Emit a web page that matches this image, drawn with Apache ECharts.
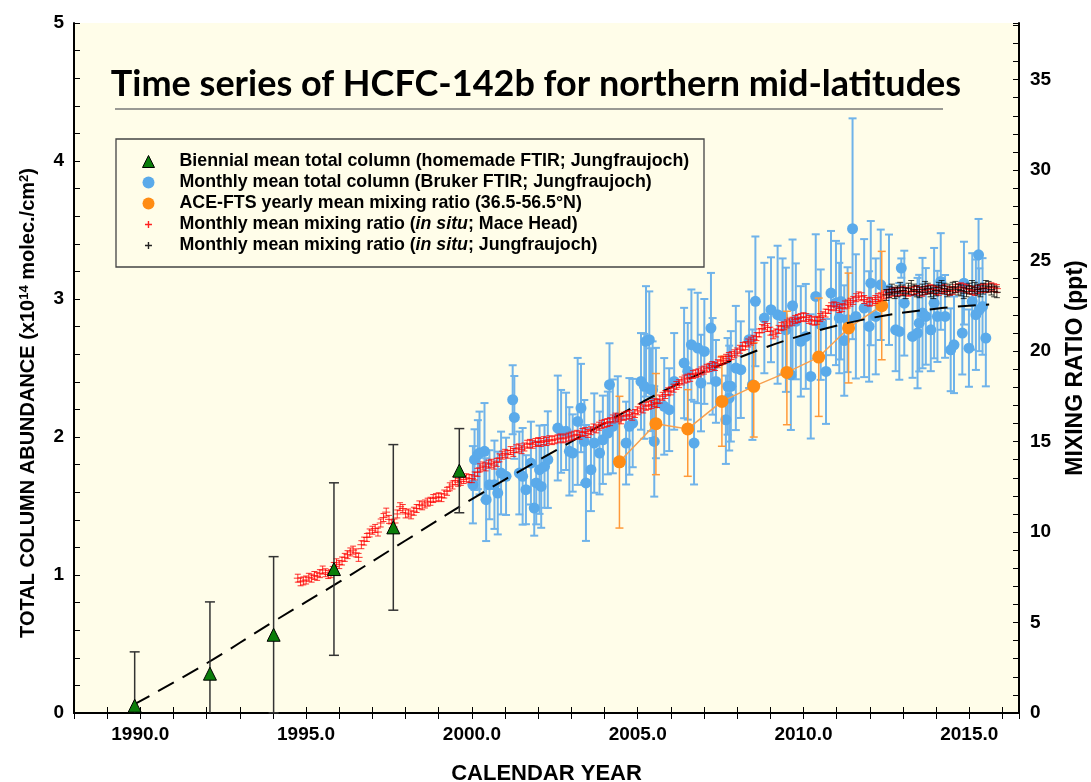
<!DOCTYPE html>
<html>
<head>
<meta charset="utf-8">
<script src="https://cdn.jsdelivr.net/npm/echarts@6/dist/echarts.min.js"></script>
<style>
  html, body { margin: 0; padding: 0; background: #fff; }
  #chart { width: 1091px; height: 782px; }
</style>
</head>
<body>
<div id="chart"></div>
<script>
// biennial means, homemade FTIR (column, 1e14 molec/cm2)
const greenYears = [1989.83, 1992.1, 1994.02, 1995.84, 1997.63, 1999.62]
const greenColumns = [0.053, 0.285, 0.567, 1.043, 1.345, 1.756]
const greenErrors = [0.39, 0.52, 0.566, 0.625, 0.6, 0.305]

// monthly means, Bruker FTIR (column)
const blueYears = [
  2000.03, 2000.08, 2000.18, 2000.23, 2000.38, 2000.43, 2000.53, 2000.68, 2000.78, 2000.88,
  2001.03, 2001.23, 2001.28, 2001.43, 2001.53, 2001.63, 2001.78, 2001.88, 2001.94, 2002.04,
  2002.09, 2002.19, 2002.29, 2002.59, 2002.69, 2002.84, 2002.94, 2003.04, 2003.19, 2003.29,
  2003.39, 2003.44, 2003.59, 2003.69, 2003.85, 2003.95, 2004.1, 2004.15, 2004.25, 2004.4,
  2004.65, 2004.75, 2004.85, 2005.1, 2005.2, 2005.25, 2005.35, 2005.4, 2005.45, 2005.5,
  2005.55, 2005.8, 2005.95, 2006.1, 2006.4, 2006.51, 2006.62, 2006.7, 2006.81, 2006.91,
  2007.01, 2007.21, 2007.26, 2007.36, 2007.66, 2007.71, 2007.76, 2007.81, 2007.96, 2008.11,
  2008.36, 2008.46, 2008.55, 2008.82, 2009.02, 2009.22, 2009.37, 2009.47, 2009.62, 2009.67,
  2009.77, 2009.92, 2010.07, 2010.22, 2010.37, 2010.52, 2010.68, 2010.83, 2010.98, 2011.08,
  2011.13, 2011.23, 2011.33, 2011.48, 2011.58, 2011.83, 2011.98, 2012.03, 2012.18, 2012.33,
  2012.58, 2012.78, 2012.89, 2012.95, 2013.04, 2013.29, 2013.44, 2013.49, 2013.59, 2013.69,
  2013.84, 2013.94, 2014.04, 2014.14, 2014.27, 2014.44, 2014.54, 2014.79, 2014.84, 2014.99,
  2015.09, 2015.2, 2015.28, 2015.3, 2015.4, 2015.5
]
const blueColumns = [
  1.654, 1.836, 1.872, 1.884, 1.896, 1.546, 1.654, 1.654, 1.594, 1.739,
  1.715, 2.27, 2.142, 1.739, 1.715, 1.618, 1.811, 1.485, 1.667, 1.763,
  1.642, 1.787, 1.836, 2.065, 2.041, 2.041, 1.896, 1.884, 2.113, 2.21,
  1.968, 1.667, 1.763, 1.956, 1.884, 1.98, 2.029, 2.379, 2.077, 2.14,
  1.956, 2.077, 2.101, 2.403, 2.367, 2.693, 2.705, 2.343, 2.343, 1.968,
  2.246, 2.222, 2.198, 2.403, 2.536, 2.476, 2.669, 1.956, 2.645, 2.391,
  2.62, 2.789, 2.512, 2.403, 2.125, 2.367, 2.282, 2.367, 2.5, 2.488,
  2.705, 2.379, 2.983, 2.862, 2.922, 2.886, 2.874, 2.777, 2.451, 2.951,
  2.838, 2.693, 2.729, 2.439, 3.019, 2.814, 2.475, 3.043, 2.971, 2.862,
  2.982, 2.699, 2.85, 3.509, 2.874, 2.934, 2.801, 3.115, 2.874, 3.103,
  3.067, 2.777, 2.765, 3.224, 2.97, 2.729, 2.753, 2.825, 2.898, 2.874,
  2.777, 2.97, 2.874, 3.127, 2.874, 2.632, 2.668, 2.753, 3.115, 2.644,
  2.982, 2.886, 3.32, 2.922, 2.946, 2.717
]
const blueErrors = [
  0.28, 0.22, 0.25, 0.3, 0.35, 0.3, 0.25, 0.32, 0.3, 0.3,
  0.28, 0.25, 0.3, 0.3, 0.35, 0.25, 0.3, 0.2, 0.3, 0.32,
  0.3, 0.3, 0.35, 0.38, 0.3, 0.28, 0.32, 0.28, 0.46, 0.32,
  0.3, 0.42, 0.3, 0.36, 0.3, 0.32, 0.3, 0.3, 0.34, 0.3,
  0.3, 0.35, 0.32, 0.35, 0.38, 0.4, 0.35, 0.3, 0.35, 0.4,
  0.4, 0.35, 0.3, 0.35, 0.4, 0.35, 0.4, 0.3, 0.4, 0.35,
  0.38, 0.4, 0.35, 0.3, 0.32, 0.35, 0.38, 0.4, 0.45, 0.35,
  0.35, 0.4, 0.47, 0.4, 0.38, 0.5, 0.42, 0.45, 0.4, 0.48,
  0.42, 0.4, 0.38, 0.45, 0.45, 0.4, 0.38, 0.45, 0.45, 0.4,
  0.42, 0.4, 0.38, 0.8, 0.45, 0.5, 0.4, 0.45, 0.42, 0.4,
  0.4, 0.3, 0.35, 0.07, 0.38, 0.3, 0.4, 0.35, 0.4, 0.35,
  0.3, 0.4, 0.33, 0.35, 0.3, 0.3, 0.35, 0.3, 0.3, 0.28,
  0.35, 0.4, 0.26, 0.3, 0.35, 0.35
]

// ACE-FTS yearly means (ppt)
const orangeYears = [2004.45, 2005.55, 2006.51, 2007.54, 2008.5, 2009.5, 2010.46, 2011.36, 2012.36]
const orangePpt = [13.88, 15.99, 15.7, 17.22, 18.05, 18.82, 19.67, 21.28, 22.51]
const orangeLow = [10.22, 13.17, 13.08, 14.74, 15.25, 15.93, 16.39, 18.24, 19.52]
const orangeHigh = [17.5, 18.76, 17.87, 19.71, 20.45, 22.2, 22.93, 24.31, 25.51]

// in situ Mace Head, monthly from Oct 1994 (ppt)
const redStart = 1994.75
const redPpt = [
  7.45, 7.25, 7.3,
  7.35, 7.5, 7.45, 7.6, 7.55, 7.7, 7.9, 7.75, 7.65, 7.7, 8.1, 8.3,
  8.2, 8.4, 8.6, 8.75, 8.9, 9.0, 8.85, 8.6, 9.3, 9.5, 9.7, 9.95,
  10.1, 10.2, 10.0, 10.5, 10.8, 11.1, 10.7, 10.45, 10.5, 11.0, 11.4, 11.3,
  11.0, 11.05, 10.95, 11.15, 11.3, 11.5, 11.45, 11.55, 11.65, 11.7, 11.85, 11.9,
  11.95, 11.9, 12.1, 12.25, 12.5, 12.6, 12.85, 12.75, 12.8, 12.9, 13.0, 12.95,
  12.95, 13.1, 13.3, 13.55, 13.65, 13.6, 13.75, 13.8, 13.7, 13.85, 14.1, 14.25,
  14.35, 14.3, 14.5, 14.4, 14.6, 14.65, 14.55, 14.7, 14.85, 14.9, 14.85, 14.95,
  15.0, 14.95, 15.05, 15.0, 15.1, 15.05, 15.1, 15.15, 15.2, 15.15, 15.2, 15.25,
  15.3, 15.35, 15.4, 15.35, 15.5, 15.55, 15.45, 15.6, 15.75, 15.7, 15.85, 15.95,
  16.0, 16.05, 16.1, 16.25, 16.35, 16.3, 16.2, 16.4, 16.45, 16.5, 16.4, 16.55,
  16.7, 16.85, 16.8, 16.95, 17.0, 17.05, 17.15, 17.1, 17.35, 17.5, 17.6, 17.75,
  17.8, 17.95, 18.1, 18.2, 18.35, 18.45, 18.5, 18.55, 18.7, 18.75, 18.8, 18.9,
  18.95, 19.05, 19.1, 19.2, 19.15, 19.3, 19.45, 19.5, 19.6, 19.7, 19.75, 19.85,
  19.95, 20.1, 20.25, 20.3, 20.45, 20.55, 20.65, 20.8, 21.0, 21.25, 21.4, 21.3,
  21.1, 20.9, 21.0, 21.2, 21.35, 21.4, 21.5, 21.6, 21.65, 21.75, 21.8, 21.85,
  21.9, 21.85, 21.75, 21.7, 21.65, 21.7, 21.85, 21.95, 22.1, 22.3, 22.45, 22.5,
  22.45, 22.35, 22.4, 22.55, 22.6, 22.7, 22.8, 22.95, 23.05, 23.0, 22.85, 22.75,
  22.7, 22.75, 22.85, 22.95, 23.0, 23.1, 23.15, 23.2, 23.25, 23.3, 23.25, 23.3,
  23.35, 23.3, 23.25, 23.3, 23.35, 23.4, 23.3, 23.25, 23.35, 23.4, 23.45, 23.4,
  23.35, 23.3, 23.4, 23.45, 23.35, 23.3, 23.35, 23.45, 23.5, 23.55, 23.5, 23.45,
  23.4, 23.35, 23.3, 23.4, 23.45, 23.5, 23.45, 23.5, 23.55, 23.5, 23.45
]
const redError = 0.22

// in situ Jungfraujoch, monthly from Jul 2012 (ppt)
const blackStart = 2012.5
const blackPpt = [
  23.1, 23.25, 23.4, 23.2, 23.3, 23.5,
  23.35, 23.2, 23.45, 23.6, 23.4, 23.3, 23.25, 23.4, 23.55, 23.45, 23.3, 23.2,
  23.35, 23.5, 23.6, 23.45, 23.3, 23.4, 23.5, 23.55, 23.4, 23.35, 23.2, 23.3,
  23.45, 23.6, 23.5, 23.4, 23.3, 23.45, 23.6, 23.55, 23.4, 23.3, 23.25
]
const blackError = 0.3

// dashed fit through the column data
const fitYears = [1989.8, 1992, 1994, 1996, 1998, 2000, 2002, 2004, 2006, 2008, 2010, 2012, 2014, 2015.6]
const fitColumns = [0.06, 0.36, 0.66, 0.95, 1.25, 1.55, 1.83, 2.1, 2.36, 2.57, 2.74, 2.86, 2.93, 2.96]

const xTicks = [1990, 1995, 2000, 2005, 2010, 2015]
const pptMax = 38.13

const NAME_GREEN = 'Biennial mean total column (homemade FTIR; Jungfraujoch)'
const NAME_BLUE = 'Monthly mean total column (Bruker FTIR; Jungfraujoch)'
const NAME_ORANGE = 'ACE-FTS yearly mean mixing ratio (36.5-56.5°N)'
const NAME_RED = 'Monthly mean mixing ratio (in situ; Mace Head)'
const NAME_BLACK = 'Monthly mean mixing ratio (in situ; Jungfraujoch)'

const FONT = "'Liberation Sans', Arial, sans-serif"
const PLUS_ICON = 'path://M0,0h0.05v0.05h-0.05zM12,12h0.05v0.05h-0.05zM5.3,2.5h1.4v2.8h2.8v1.4h-2.8v2.8h-1.4v-2.8h-2.8v-1.4h2.8z'

// error bar drawing: vertical bar, caps, optional horizontal cross
function errorBars(color, width, capHalf, crossHalf) {
  return function (params, api) {
    const x = api.value(0)
    const lo = api.value(2)
    const mid = api.coord([x, api.value(1)])
    const top = api.coord([x, api.value(3)])
    const bottom = api.coord([x, Math.max(lo, 0)])
    const style = { stroke: color, lineWidth: width }
    const children = [
      { type: 'line', shape: { x1: mid[0], y1: top[1], x2: mid[0], y2: bottom[1] }, style },
      { type: 'line', shape: { x1: mid[0] - capHalf, y1: top[1], x2: mid[0] + capHalf, y2: top[1] }, style }
    ]
    if (lo >= 0) {
      children.push({ type: 'line', shape: { x1: mid[0] - capHalf, y1: bottom[1], x2: mid[0] + capHalf, y2: bottom[1] }, style })
    }
    if (crossHalf) {
      children.push({ type: 'line', shape: { x1: mid[0] - crossHalf, y1: mid[1], x2: mid[0] + crossHalf, y2: mid[1] }, style })
    }
    return { type: 'group', children }
  }
}

const greenData = greenYears.map((x, i) => [x, greenColumns[i], greenColumns[i] - greenErrors[i], greenColumns[i] + greenErrors[i]])
const blueData = blueYears.map((x, i) => [x, blueColumns[i], blueColumns[i] - blueErrors[i], blueColumns[i] + blueErrors[i]])
const orangeData = orangeYears.map((x, i) => [x, orangePpt[i], orangeLow[i], orangeHigh[i]])
const redData = redPpt.map((v, i) => [redStart + i / 12, v, v - redError, v + redError])
const blackData = blackPpt.map((v, i) => [blackStart + i / 12, v, v - blackError, v + blackError])
const fitData = fitYears.map((x, i) => [x, fitColumns[i]])

const tickStyle = { show: true, inside: true, length: 6, lineStyle: { color: '#000', width: 1 } }
const lineStyle = { show: true, lineStyle: { color: '#000', width: 2 } }
const labelStyle = { fontFamily: FONT, fontWeight: 'bold', fontSize: 19, color: '#000' }

const option = {
  animation: false,
  backgroundColor: '#fff',
  grid: {
    left: 74, right: 72, top: 23, bottom: 69,
    outerBoundsMode: 'none',
    containLabel: false,
    show: true, backgroundColor: '#fffde9', borderWidth: 0
  },
  graphic: [
    {
      type: 'text', x: 536, y: 84, z: 10,
      style: {
        text: 'Time series of HCFC-142b for northern mid-latitudes',
        font: "bold 36px Lato, 'Open Sans', sans-serif",
        fill: '#000', align: 'center', verticalAlign: 'middle'
      }
    },
    {
      type: 'line', z: 10,
      shape: { x1: 115, y1: 109, x2: 943, y2: 109 },
      style: { stroke: '#777', lineWidth: 1.5 }
    },
    {
      type: 'rect', z: 10,
      shape: { x: 116, y: 139, width: 588, height: 128 },
      style: { fill: 'none', stroke: '#444', lineWidth: 1.3 }
    }
  ],
  legend: {
    orient: 'vertical',
    left: 142,
    top: 151,
    padding: 0,
    itemWidth: 12,
    itemHeight: 12,
    itemGap: 0,
    selectedMode: false,
    data: [
      { name: NAME_GREEN, icon: 'triangle', itemStyle: { color: '#0a7d0a', borderColor: '#000', borderWidth: 1 } },
      { name: NAME_BLUE, icon: 'circle', itemStyle: { color: '#5aaaea', borderWidth: 0 } },
      { name: NAME_ORANGE, icon: 'circle', itemStyle: { color: '#ff8c14', borderWidth: 0 } },
      { name: NAME_RED, icon: PLUS_ICON, itemStyle: { color: '#ff2020', borderWidth: 0 } },
      { name: NAME_BLACK, icon: PLUS_ICON, itemStyle: { color: '#222', borderWidth: 0 } }
    ],
    formatter: name => name.replace('in situ', '{i|in situ}'),
    textStyle: {
      fontFamily: FONT, fontWeight: 'bold', fontSize: 17.8, color: '#000',
      lineHeight: 21, padding: [0, 0, 0, 20],
      rich: {
        i: { fontFamily: FONT, fontWeight: 'bold', fontStyle: 'italic', fontSize: 17.8, color: '#000', lineHeight: 21 }
      }
    }
  },
  xAxis: [
    {
      type: 'value', min: 1988, max: 2016.5, interval: 1,
      name: 'CALENDAR YEAR', nameLocation: 'middle', nameGap: 50,
      nameTextStyle: { fontFamily: FONT, fontWeight: 'bold', fontSize: 22, color: '#000' },
      axisLine: lineStyle, axisTick: tickStyle, splitLine: { show: false },
      axisLabel: Object.assign({}, labelStyle, {
        margin: 12,
        formatter: v => (xTicks.indexOf(v) >= 0 ? v.toFixed(1) : '')
      })
    },
    {
      type: 'value', position: 'top', min: 1988, max: 2016.5, interval: 1,
      axisLine: lineStyle, axisTick: tickStyle, splitLine: { show: false },
      axisLabel: { show: false }
    }
  ],
  yAxis: [
    {
      type: 'value', min: 0, max: 5, interval: 0.2,
      name: 'TOTAL COLUMN ABUNDANCE (x10{sup|14} molec./cm{sup|2})',
      nameLocation: 'middle', nameGap: 36, nameRotate: 90,
      nameTextStyle: {
        fontFamily: FONT, fontWeight: 'bold', fontSize: 20, color: '#000',
        padding: [0, 70, 0, 0],
        rich: { sup: { fontFamily: FONT, fontWeight: 'bold', fontSize: 13, color: '#000', verticalAlign: 'top' } }
      },
      axisLine: lineStyle, axisTick: tickStyle, splitLine: { show: false },
      axisLabel: Object.assign({}, labelStyle, {
        margin: 10,
        formatter: v => (Math.abs(v - Math.round(v)) < 1e-6 ? String(Math.round(v)) : '')
      })
    },
    {
      type: 'value', position: 'right', min: 0, max: pptMax, interval: 1,
      name: 'MIXING RATIO (ppt)', nameLocation: 'middle', nameGap: 45, nameRotate: 90,
      nameTextStyle: { fontFamily: FONT, fontWeight: 'bold', fontSize: 23, color: '#000' },
      axisLine: lineStyle, axisTick: tickStyle, splitLine: { show: false },
      axisLabel: Object.assign({}, labelStyle, {
        margin: 11,
        formatter: v => (v % 5 === 0 ? String(v) : '')
      })
    }
  ],
  series: [
    {
      type: 'custom', name: 'blue-err', xAxisIndex: 0, yAxisIndex: 0, z: 2,
      renderItem: errorBars('#6fb3ea', 2, 4, 0), data: blueData, silent: true
    },
    {
      type: 'scatter', name: NAME_BLUE, xAxisIndex: 0, yAxisIndex: 0, z: 3,
      symbol: 'circle', symbolSize: 11, itemStyle: { color: '#5aaaea', opacity: 1 },
      data: blueData.map(d => [d[0], d[1]])
    },
    {
      type: 'custom', name: 'orange-err', xAxisIndex: 0, yAxisIndex: 1, z: 4,
      renderItem: errorBars('#ff9a3a', 1.5, 4, 0), data: orangeData, silent: true
    },
    {
      type: 'line', name: NAME_ORANGE, xAxisIndex: 0, yAxisIndex: 1, z: 5,
      symbol: 'circle', symbolSize: 13, showSymbol: true,
      lineStyle: { color: '#f7a050', width: 1.5 },
      itemStyle: { color: '#ff8c14', borderWidth: 0 },
      data: orangeData.map(d => [d[0], d[1]])
    },
    {
      type: 'line', name: 'fit', xAxisIndex: 0, yAxisIndex: 0, z: 6,
      smooth: 0.4, showSymbol: false, symbol: 'none',
      lineStyle: { color: '#000', width: 2, type: [18, 10] },
      data: fitData
    },
    {
      type: 'custom', name: NAME_RED, xAxisIndex: 0, yAxisIndex: 1, z: 7,
      itemStyle: { color: '#ff2020' },
      renderItem: errorBars('rgba(255,0,0,0.8)', 1, 3, 4), data: redData
    },
    {
      type: 'custom', name: NAME_BLACK, xAxisIndex: 0, yAxisIndex: 1, z: 8,
      itemStyle: { color: '#222' },
      renderItem: errorBars('rgba(0,0,0,0.75)', 1, 3, 4), data: blackData
    },
    {
      type: 'custom', name: 'green-err', xAxisIndex: 0, yAxisIndex: 0, z: 9,
      renderItem: errorBars('#333', 1.5, 5, 0), data: greenData, silent: true
    },
    {
      type: 'scatter', name: NAME_GREEN, xAxisIndex: 0, yAxisIndex: 0, z: 10,
      symbol: 'triangle', symbolSize: 13,
      itemStyle: { color: '#0a7d0a', borderColor: '#000', borderWidth: 1, opacity: 1 },
      data: greenData.map(d => [d[0], d[1]])
    }
  ]
}

const chart = echarts.init(document.getElementById('chart'))
chart.setOption(option)
</script>
</body>
</html>
